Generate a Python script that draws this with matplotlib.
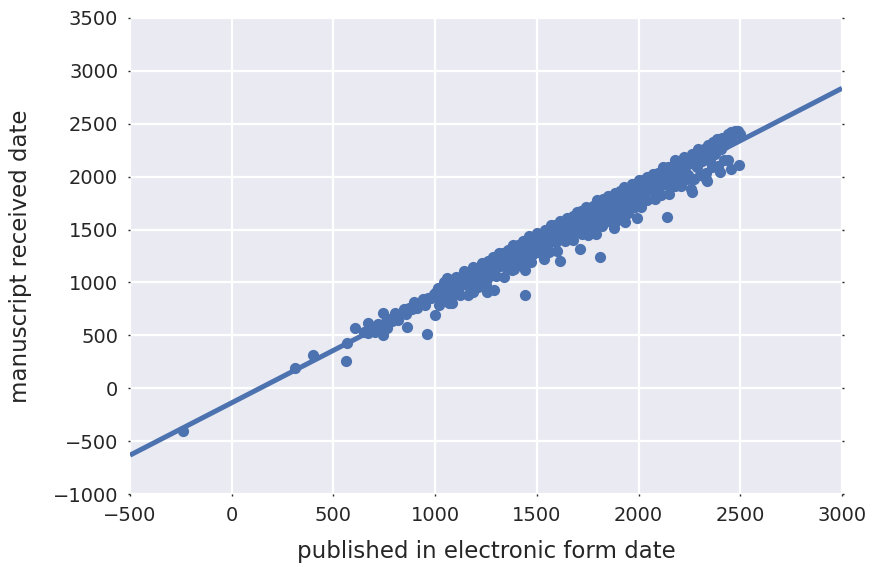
import numpy as np
import matplotlib
matplotlib.use("Agg")
import matplotlib.pyplot as plt

# ---- data ----
x_low = [-240, 310, 400, 562, 567, 606, 668, 745, 744, 860, 962, 999, 1081]
y_low = [-405, 190, 315, 262, 428, 567, 620, 709, 504, 582, 513, 693, 803]

x_a = [650, 672, 690, 705, 718, 730, 752, 765, 778, 790, 805, 818, 830, 845, 858,
       872, 885, 898, 910, 925, 938, 950, 965, 980, 995]
y_a = [530, 522, 560, 535, 608, 570, 612, 565, 658, 640, 715, 648, 700, 745, 698,
       762, 745, 818, 760, 805, 848, 790, 855, 850, 895]

x_b = [1005, 1012, 1020, 1028, 1035, 1042, 1050, 1058, 1065, 1072, 1080, 1088, 1095,
       1102, 1110, 1118, 1125, 1133, 1140, 1148, 1155, 1163, 1170, 1178, 1185, 1193,
       1200, 1208, 1215, 1223, 1230, 1238, 1245, 1253, 1260, 1268, 1275, 1283, 1290,
       1298, 1305, 1313, 1320, 1328, 1335, 1343, 1350, 1358, 1365, 1370]
y_b = [905, 952, 870, 948, 845, 1002, 930, 1038, 895, 982, 1020, 878, 965,
       1052, 1010, 958, 1055, 993, 1110, 1038, 975, 1103, 1080, 1028, 1145, 993,
       1080, 1138, 1115, 1053, 1180, 1108, 1155, 1033, 1200, 1158, 1125, 1243, 1110,
       1218, 1185, 1283, 1160, 1228, 1275, 1203, 1150, 1308, 1255, 1290]

x_c = [1375, 1380, 1385, 1390, 1395, 1400, 1405, 1410, 1415, 1420, 1425, 1430, 1435,
       1440, 1445, 1450, 1455, 1460, 1465, 1470, 1475, 1480, 1485, 1490, 1495, 1500,
       1505, 1510, 1515, 1520, 1525, 1530, 1535, 1540, 1545, 1550, 1555, 1560, 1565,
       1570, 1575, 1580, 1585, 1590, 1595, 1600, 1605, 1610, 1615, 1620, 1625, 1630,
       1635, 1640, 1645, 1650, 1655, 1660, 1665, 1670, 1675, 1680, 1685, 1690, 1695, 1700]
y_c = [1315, 1240, 1355, 1190, 1295, 1230, 1355, 1290, 1185, 1340, 1275, 1390, 1245,
       1330, 1385, 1210, 1325, 1440, 1375, 1300, 1425, 1270, 1365, 1420, 1345, 1470,
       1405, 1320, 1455, 1380, 1305, 1450, 1415, 1500, 1375, 1450, 1305, 1500, 1435,
       1540, 1395, 1490, 1435, 1540, 1385, 1490, 1535, 1450, 1585, 1490, 1425, 1540,
       1575, 1470, 1535, 1610, 1425, 1520, 1585, 1550, 1485, 1630, 1585, 1530, 1665, 1490]

x_d = [1705, 1710, 1715, 1720, 1725, 1730, 1735, 1740, 1745, 1750,
       1755, 1760, 1765, 1770, 1775, 1780, 1785, 1790, 1795, 1800,
       1805, 1810, 1815, 1820, 1825, 1830, 1835, 1840, 1845, 1850,
       1855, 1860, 1865, 1870, 1875, 1880, 1885, 1890, 1895, 1900,
       1905, 1910, 1915, 1920, 1925, 1930, 1935, 1940, 1945, 1950,
       1955, 1960, 1965, 1970, 1975, 1980, 1985, 1990, 1995, 2000,
       2005, 2010, 2015, 2020, 2025, 2030, 2035, 2040, 2045, 2050]
y_d = [1615, 1530, 1675, 1590, 1505, 1660, 1585, 1710, 1635, 1550,
       1695, 1590, 1665, 1530, 1725, 1640, 1705, 1600, 1775, 1680,
       1645, 1750, 1605, 1720, 1785, 1680, 1585, 1760, 1715, 1820,
       1675, 1750, 1805, 1670, 1785, 1740, 1845, 1720, 1665, 1830,
       1785, 1860, 1725, 1820, 1775, 1900, 1725, 1860, 1815, 1890,
       1785, 1850, 1705, 1930, 1835, 1890, 1785, 1930, 1875, 1970,
       1825, 1910, 1865, 1970, 1805, 1950, 1905, 2000, 1875, 1940]

x_e = [2055, 2062, 2069, 2076, 2083, 2090, 2097, 2104, 2111, 2118,
       2125, 2132, 2139, 2146, 2153, 2160, 2167, 2174, 2181, 2188,
       2195, 2202, 2209, 2216, 2223, 2230, 2237, 2244, 2251, 2258,
       2265, 2272, 2279, 2286, 2293, 2300, 2307, 2314, 2321, 2328,
       2335, 2342, 2349, 2356, 2363, 2370, 2377, 2384, 2391, 2398,
       2405, 2412, 2419, 2426, 2433, 2440, 2447, 2454, 2461, 2468,
       2475, 2482, 2490, 2500]
y_e = [1955, 1902, 2029, 1866, 2003, 1960, 2037, 1914, 2001, 2088,
       1975, 2042, 1919, 2096, 2033, 1990, 2097, 2034, 2161, 1988,
       2095, 2142, 2049, 2096, 2183, 2050, 2147, 2014, 2181, 2128,
       2215, 2122, 2179, 2096, 2263, 2180, 2227, 2144, 2261, 2188,
       2235, 2302, 2149, 2266, 2233, 2310, 2217, 2354, 2281, 2328,
       2265, 2362, 2299, 2346, 2333, 2400, 2387, 2424, 2371, 2418,
       2435, 2435, 2430, 2405]

x_f = [1020, 1070, 1120, 1160, 1210, 1250, 1300, 1340, 1390, 1430, 1470, 1520,
       1560, 1600, 1640, 1680, 1720, 1750, 1780, 1820, 1850, 1890, 1920, 1950,
       1980, 2010, 2040, 2080, 2110, 2150, 2180, 2210, 2240, 2270, 2300, 2330,
       2360, 2390, 2420, 2440]
y_f = [790, 810, 880, 880, 960, 980, 1060, 1050, 1130, 1180, 1190, 1280,
       1290, 1300, 1390, 1400, 1460, 1450, 1530, 1530, 1580, 1580, 1660, 1660,
       1710, 1710, 1780, 1790, 1830, 1840, 1910, 1910, 1980, 1980, 2020, 2030,
       2090, 2100, 2160, 2160]

x_out = [1188, 1254, 1287, 1442, 1442, 1377, 1533, 1615, 1810, 1790, 1880, 1712,
         1934, 1991, 2139, 2257, 2261, 2331, 2335, 2401, 2454, 2495, 2367]
y_out = [908, 914, 924, 883, 1113, 1113, 1223, 1207, 1240, 1454, 1517, 1317,
         1575, 1607, 1618, 1880, 1858, 1974, 1962, 2047, 2069, 2106, 2331]

x_ticks = [-500, 0, 500, 1000, 1500, 2000, 2500, 3000]
y_ticks = [-1000, -500, 0, 500, 1000, 1500, 2000, 2500, 3000, 3500]
x_label = "published in electronic form date"
y_label = "manuscript received date"

# ---- assemble ----
x = np.array(x_low + x_a + x_b + x_c + x_d + x_e + x_f + x_out, dtype=float)
y = np.array(y_low + y_a + y_b + y_c + y_d + y_e + y_f + y_out, dtype=float)

color = "#4C72B0"
plt.rcParams['font.family'] = ['DejaVu Sans']

fig = plt.figure(figsize=(8.75, 5.67), dpi=100)
ax = fig.add_axes([0.1486, 0.1287, 0.8137, 0.8396])
ax.set_facecolor("#EAEAF2")
for s in ax.spines.values():
    s.set_visible(False)
ax.grid(True, color="white", linewidth=1.6)
ax.set_axisbelow(True)

ax.scatter(x, y, s=65, color=color, linewidths=0, zorder=3)

xlim = (x_ticks[0], x_ticks[-1])
slope, intercept = np.polyfit(x, y, 1)
xx = np.array(xlim, dtype=float)
ax.plot(xx, slope * xx + intercept, color=color, linewidth=3.6, zorder=4,
        solid_capstyle='butt')

ax.set_xlim(*xlim)
ax.set_ylim(y_ticks[0], y_ticks[-1])
ax.set_xticks(x_ticks)
ax.set_yticks(y_ticks)
ax.tick_params(axis='both', which='major', labelsize=14, length=1.5, width=1,
               color='#262626', labelcolor='#262626', pad=7,
               top=False, right=True)
ax.set_xlabel(x_label, fontsize=16.5, color='#262626', labelpad=11)
ax.set_ylabel(y_label, fontsize=16.5, color='#262626', labelpad=15)

fig.savefig("out.png", dpi=100)
